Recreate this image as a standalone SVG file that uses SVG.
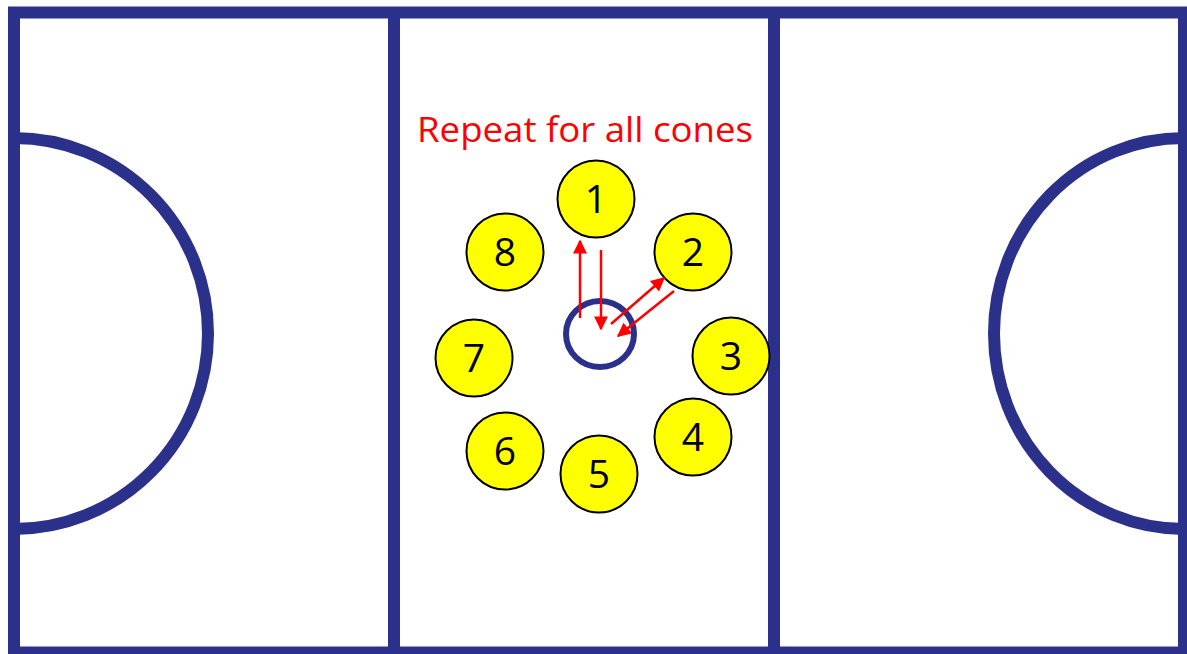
<svg xmlns="http://www.w3.org/2000/svg" width="1187" height="654" viewBox="0 0 1187 654">
<style>
.court{fill:none;stroke:#2b318a;stroke-width:12}
.cone circle{fill:#ffff00;stroke:#000;stroke-width:2}
.cone text{font-family:"Open Sans","Liberation Sans",sans-serif;font-size:39px;fill:#000;text-anchor:middle}
.arr{stroke:#ff0000;stroke-width:2.5;fill:none;marker-end:url(#ah)}
</style>
<defs>
<marker id="ah" viewBox="0 0 10 10" refX="9" refY="5" markerWidth="6.4" markerHeight="5.6" markerUnits="strokeWidth" orient="auto">
<path d="M0,0 L10,5 L0,10 Z" fill="#ff0000"/>
</marker>
</defs>
<rect width="1187" height="654" fill="#fff"/>
<g id="court">
<rect class="court" x="14" y="12.5" width="1170" height="640"/>
<line class="court" x1="394" y1="12" x2="394" y2="654"/>
<line class="court" x1="774" y1="12" x2="774" y2="654"/>
<path class="court" d="M14,138 A194,195.5 0 0 1 14,529" stroke-width="11"/>
<path class="court" d="M1184,138 A190,195.5 0 0 0 1184,529" stroke-width="11"/>
<ellipse cx="600" cy="334" rx="34" ry="33" fill="none" stroke="#2b318a" stroke-width="6"/>
</g>
<text id="title" x="585" y="142" font-family="Open Sans, Liberation Sans, sans-serif" font-size="34" fill="#ff0000" text-anchor="middle" textLength="336" lengthAdjust="spacingAndGlyphs">Repeat for all cones</text>
<g id="cone1" class="cone"><circle cx="596" cy="199" r="38.5"/><text x="596" y="213">1</text></g>
<g id="cone2" class="cone"><circle cx="693" cy="252" r="38.5"/><text x="693" y="266">2</text></g>
<g id="cone3" class="cone"><circle cx="731" cy="356" r="38.5"/><text x="731" y="370">3</text></g>
<g id="cone4" class="cone"><circle cx="693" cy="437" r="38.5"/><text x="693" y="451">4</text></g>
<g id="cone5" class="cone"><circle cx="599" cy="474" r="38.5"/><text x="599" y="488">5</text></g>
<g id="cone6" class="cone"><circle cx="505" cy="451" r="38.5"/><text x="505" y="465">6</text></g>
<g id="cone7" class="cone"><circle cx="474" cy="358" r="38.5"/><text x="474" y="372">7</text></g>
<g id="cone8" class="cone"><circle cx="505" cy="252" r="38.5"/><text x="505" y="266">8</text></g>
<g id="connectors">
<line class="arr" x1="580" y1="318" x2="580" y2="241"/>
<line class="arr" x1="601" y1="250" x2="601" y2="329"/>
<line class="arr" x1="611" y1="324" x2="664" y2="278"/>
<line class="arr" x1="674" y1="291" x2="618" y2="336"/>
</g>
</svg>
